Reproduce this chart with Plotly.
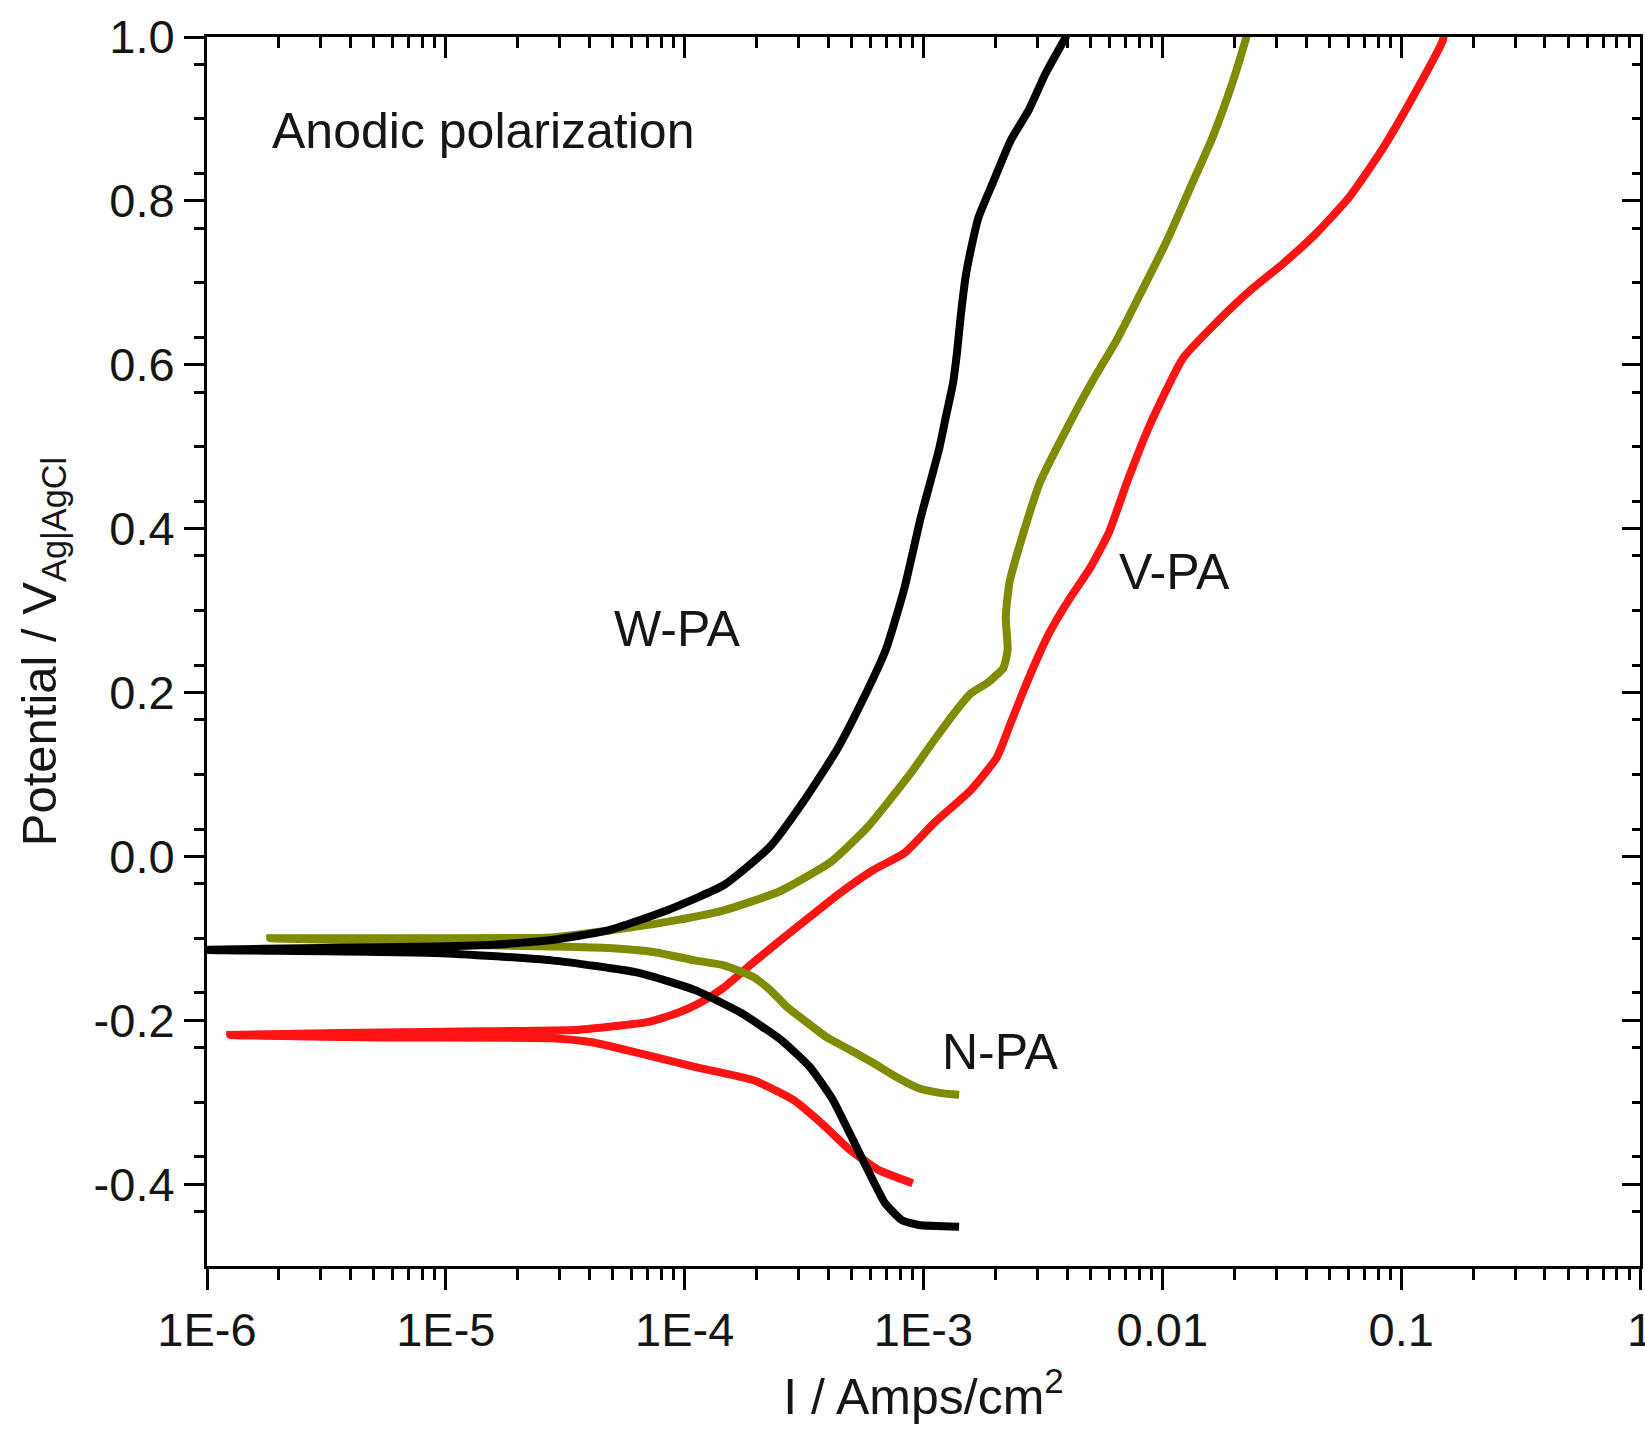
import plotly.graph_objects as go

# ---------------- data (current density in A/cm^2, potential in V vs Ag|AgCl) ----------------
# W-PA (black): cathodic branch (from most negative potential to Ecorr) then anodic branch
wpa_cat_i = [1.41e-3, 9.55e-4, 8.11e-4, 6.89e-4, 5.85e-4, 4.91e-4, 4.17e-4, 3.34e-4, 2.53e-4,
             1.72e-4, 1.10e-4, 6.37e-5, 2.78e-5, 9.18e-6, 9.5e-7]
wpa_cat_v = [-0.452, -0.450, -0.444, -0.423, -0.383, -0.338, -0.297, -0.257, -0.224,
             -0.191, -0.163, -0.142, -0.127, -0.118, -0.114]
wpa_an_i = [9.5e-7, 3.02e-6, 9.12e-6, 1.58e-5, 2.78e-5, 4.82e-5, 8.41e-5, 1.46e-4, 2.28e-4,
            3.18e-4, 4.34e-4, 5.57e-4, 6.95e-4, 8.28e-4, 9.75e-4, 1.16e-3, 1.24e-3, 1.33e-3,
            1.38e-3, 1.43e-3, 1.50e-3, 1.61e-3, 1.70e-3, 1.95e-3, 2.32e-3, 2.76e-3, 3.25e-3,
            3.94e-3, 4.05e-3]
wpa_an_v = [-0.112, -0.112, -0.110, -0.108, -0.102, -0.090, -0.066, -0.035, 0.012,
            0.069, 0.130, 0.191, 0.252, 0.325, 0.414, 0.496, 0.536, 0.578,
            0.614, 0.658, 0.707, 0.752, 0.780, 0.822, 0.874, 0.911, 0.956,
            1.000, 1.008]

# V-PA (red)
vpa_cat_i = [9.02e-4, 6.50e-4, 4.91e-4, 3.75e-4, 2.84e-4, 1.93e-4, 1.10e-4, 6.37e-5,
             4.09e-5, 2.78e-5, 5.30e-6, 1.25e-6]
vpa_cat_v = [-0.399, -0.383, -0.358, -0.326, -0.297, -0.273, -0.257, -0.240,
             -0.227, -0.222, -0.221, -0.218]
vpa_an_i = [1.25e-6, 1.0e-5, 3.47e-5, 4.82e-5, 7.08e-5, 9.38e-5, 1.17e-4, 1.46e-4, 1.93e-4,
            2.53e-4, 3.34e-4, 4.42e-4, 6.14e-4, 8.32e-4, 1.11e-3, 1.58e-3, 2.03e-3, 2.32e-3,
            2.63e-3, 3.01e-3, 3.41e-3, 4.06e-3, 5.01e-3, 5.97e-3, 7.10e-3, 8.85e-3, 1.22e-2,
            1.69e-2, 2.32e-2, 3.19e-2, 4.43e-2, 6.08e-2, 8.38e-2, 0.116, 0.149, 0.152]
vpa_an_v = [-0.216, -0.214, -0.212, -0.208, -0.202, -0.191, -0.178, -0.160, -0.130,
            -0.102, -0.074, -0.046, -0.017, 0.004, 0.041, 0.081, 0.121, 0.163,
            0.203, 0.243, 0.276, 0.313, 0.353, 0.395, 0.456, 0.526, 0.608,
            0.652, 0.690, 0.723, 0.761, 0.805, 0.864, 0.935, 0.995, 1.008]

# N-PA (olive)
npa_cat_i = [1.41e-3, 1.19e-3, 9.55e-4, 7.66e-4, 6.14e-4, 4.91e-4, 3.94e-4, 3.16e-4, 2.68e-4,
             2.28e-4, 1.93e-4, 1.46e-4, 1.10e-4, 7.50e-5, 4.82e-5, 2.78e-5, 1.27e-5, 5.0e-6,
             1.84e-6]
npa_cat_v = [-0.291, -0.289, -0.283, -0.269, -0.252, -0.236, -0.221, -0.200, -0.184,
             -0.163, -0.147, -0.133, -0.127, -0.117, -0.112, -0.110, -0.108, -0.103,
             -0.100]
npa_an_i = [1.84e-6, 1.0e-5, 2.78e-5, 4.42e-5, 8.41e-5, 1.46e-4, 2.53e-4, 4.13e-4, 5.85e-4,
            7.23e-4, 9.02e-4, 1.11e-3, 1.38e-3, 1.58e-3, 1.86e-3, 2.16e-3, 2.25e-3, 2.21e-3,
            2.29e-3, 2.53e-3, 3.07e-3, 3.98e-3, 5.12e-3, 6.44e-3, 8.04e-3, 1.04e-2, 1.30e-2,
            1.63e-2, 1.97e-2, 2.25e-2, 2.29e-2]
npa_an_v = [-0.098, -0.100, -0.099, -0.092, -0.080, -0.066, -0.042, -0.006, 0.036,
            0.069, 0.105, 0.142, 0.179, 0.199, 0.212, 0.230, 0.252, 0.292,
            0.334, 0.380, 0.456, 0.522, 0.581, 0.630, 0.685, 0.750, 0.814,
            0.879, 0.945, 1.000, 1.008]

x_tickvals = [1e-6, 1e-5, 1e-4, 1e-3, 1e-2, 1e-1, 1]
x_ticktext = ["1E-6", "1E-5", "1E-4", "1E-3", "0.01", "0.1", "1"]
y_tickvals = [-0.4, -0.2, 0.0, 0.2, 0.4, 0.6, 0.8, 1.0]
y_ticktext = ["-0.4", "-0.2", "0.0", "0.2", "0.4", "0.6", "0.8", "1.0"]

x_minor = [k * 10.0 ** e for e in range(-6, 0) for k in range(2, 10)]
y_minor = [round(-0.5 + j * 0.2 / 3, 6) for j in range(0, 23)]
y_minor = [v for v in y_minor if all(abs(v - t) > 1e-4 for t in y_tickvals) and -0.5 < v < 1.0]

FONT = "Liberation Sans, Arial, sans-serif"
TXT = "#151515"
OLIVE = "#7f8b00"
RED = "#ff1414"
BLACK = "#000000"
LW = 8

fig = go.Figure()

def add(xs, ys, color):
    fig.add_trace(go.Scatter(x=xs, y=ys, mode="lines",
                             line=dict(color=color, width=LW, shape="spline", smoothing=0.5),
                             showlegend=False, hoverinfo="skip"))

# each curve: cathodic branch (end -> Ecorr) followed by anodic branch (Ecorr -> end)
add(vpa_cat_i + vpa_an_i[1:], vpa_cat_v + vpa_an_v[1:], RED)
add(npa_cat_i + npa_an_i[1:], npa_cat_v + npa_an_v[1:], OLIVE)
add(wpa_cat_i + wpa_an_i[1:], wpa_cat_v + wpa_an_v[1:], BLACK)

# invisible trace for the mirrored (top / right) axes
fig.add_trace(go.Scatter(x=[], y=[], xaxis="x2", yaxis="y2", showlegend=False))

axis_common = dict(showgrid=False, zeroline=False, showline=True, linewidth=3,
                   linecolor="black", tickcolor="black", tickwidth=3, automargin=False)

fig.update_layout(
    width=1645, height=1429,
    margin=dict(l=207, r=5, t=37, b=163, autoexpand=False),
    paper_bgcolor="white", plot_bgcolor="white",
    font=dict(family=FONT, color=TXT),
    xaxis=dict(type="log", range=[-6, 0], tickmode="array", tickvals=x_tickvals,
               ticktext=x_ticktext, ticks="outside", ticklen=21,
               ticklabeloverflow="allow",
               tickfont=dict(family=FONT, size=47, color=TXT),
               minor=dict(tickmode="array", tickvals=x_minor, ticks="outside",
                          ticklen=11, tickwidth=3, tickcolor="black", showgrid=False),
               title=dict(text="I / Amps/cm<sup>2</sup>",
                          font=dict(family=FONT, size=50, color=TXT), standoff=24),
               **axis_common),
    xaxis2=dict(type="log", range=[-6, 0], overlaying="x", side="top", anchor="y",
                tickmode="array", tickvals=x_tickvals, ticks="inside", ticklen=21,
                showticklabels=False,
                minor=dict(tickmode="array", tickvals=x_minor, ticks="inside",
                           ticklen=11, tickwidth=3, tickcolor="black", showgrid=False),
                **axis_common),
    yaxis=dict(range=[-0.5, 1.0], tickmode="array", tickvals=y_tickvals,
               ticktext=y_ticktext, ticks="outside", ticklen=20,
               tickfont=dict(family=FONT, size=47, color=TXT),
               minor=dict(tickmode="array", tickvals=y_minor, ticks="outside",
                          ticklen=10, tickwidth=3, tickcolor="black", showgrid=False),
               title=dict(text="Potential / V<sub>Ag|AgCl</sub>",
                          font=dict(family=FONT, size=49, color=TXT), standoff=22),
               **axis_common),
    yaxis2=dict(range=[-0.5, 1.0], overlaying="y", side="right", anchor="x",
                tickmode="array", tickvals=y_tickvals, ticks="inside", ticklen=18,
                showticklabels=False,
                minor=dict(tickmode="array", tickvals=y_minor, ticks="inside",
                           ticklen=8, tickwidth=3, tickcolor="black", showgrid=False),
                **axis_common),
)

ann_font = dict(family=FONT, size=50, color=TXT)
labels = [
    ("Anodic polarization", -5.736, 0.885, "left"),
    ("W-PA", -4.028, 0.277, "center"),
    ("V-PA", -1.948, 0.347, "center"),
    ("N-PA", -2.68, -0.239, "center"),
]
for text, lx, ly, anchor in labels:
    fig.add_annotation(x=lx, y=ly, xref="x", yref="y", text=text, showarrow=False,
                       xanchor=anchor, yanchor="middle", font=ann_font)

fig.write_html("out.html")
